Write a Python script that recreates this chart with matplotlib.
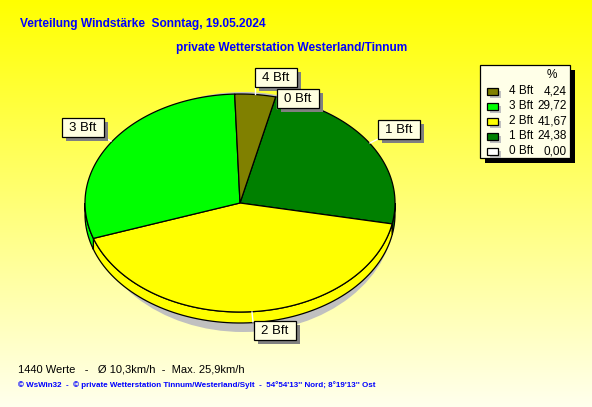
import numpy as np
import matplotlib
matplotlib.use('Agg')
import matplotlib.pyplot as plt
from matplotlib.patches import Rectangle, Ellipse, Polygon

# ---------------- data ----------------
categories = ['0 Bft', '1 Bft', '2 Bft', '3 Bft', '4 Bft']
percent = [0.00, 24.38, 41.67, 29.72, 4.24]
colors = ['#FFFFFF', '#008000', '#FFFF00', '#00FF00', '#808000']
legend_order = [4, 3, 2, 1, 0]

title = 'Verteilung Windstärke  Sonntag, 19.05.2024'
subtitle = 'private Wetterstation Westerland/Tinnum'
stats = '1440 Werte   -   Ø 10,3km/h  -  Max. 25,9km/h'
footer = "© WsWin32  -  © private Wetterstation Tinnum/Westerland/Sylt  -  54°54'13'' Nord; 8°19'13'' Ost"

# ---------------- layout ----------------
W, H = 592, 407
FONT = ['Liberation Sans', 'DejaVu Sans']

fig = plt.figure(figsize=(W / 100, H / 100), dpi=100)
ax = fig.add_axes([0, 0, 1, 1])
ax.set_xlim(0, W)
ax.set_ylim(H, 0)
ax.axis('off')

# background gradient (yellow -> pale)
g = np.linspace(0, 1, 256)
img = np.ones((256, 1, 3))
img[:, 0, 2] = g * 0.93
ax.imshow(img, extent=[0, W, H, 0], aspect='auto', zorder=0, interpolation='bilinear')

# pie geometry
cx, cy, rx, ry, depth = 240, 203, 155, 109, 11
startangle = 76.7


def pt(theta_deg, dy=0.0):
    t = np.radians(theta_deg)
    return cx + rx * np.cos(t), cy - ry * np.sin(t) + dy


vals = np.array(percent, dtype=float)
cum = np.concatenate([[0], np.cumsum(vals)]) / vals.sum() * 360.0
bounds = startangle - cum  # clockwise

# shadow
ax.add_patch(Ellipse((243, 212), 2 * 152, 2 * 120, facecolor='#C0C0C0',
                     edgecolor='none', zorder=1))

# sides (front half only)
for i, v in enumerate(vals):
    if v <= 0:
        continue
    hi, lo = bounds[i], bounds[i + 1]
    for k in (-2, -1, 0, 1):
        a = max(lo, -180 + 360 * k)
        b = min(hi, 0 + 360 * k)
        if b - a <= 0.01:
            continue
        th = np.linspace(a, b, 80)
        top = [pt(t) for t in th]
        bot = [pt(t, depth) for t in th[::-1]]
        ax.add_patch(Polygon(top + bot, closed=True, facecolor=colors[i],
                             edgecolor='black', lw=0.9, zorder=2))

# top faces
for i, v in enumerate(vals):
    if v <= 0:
        continue
    hi, lo = bounds[i], bounds[i + 1]
    th = np.linspace(hi, lo, 200)
    poly = [(cx, cy)] + [pt(t) for t in th]
    ax.add_patch(Polygon(poly, closed=True, facecolor=colors[i],
                         edgecolor='black', lw=0.9, zorder=3))

# slice labels (box centers are layout constants)
label_boxes = {
    '4 Bft': (276, 77.5, (255, 94), (255, 87)),
    '0 Bft': (298, 98.5, (277, 97), (277, 108)),
    '1 Bft': (399, 129.5, (370, 143), (378, 139)),
    '3 Bft': (82.5, 127.5, (111, 141), (103, 137)),
    '2 Bft': (274.5, 330, (252, 312), (253, 322)),
}
bw, bh = 42, 19
for name in categories:
    x, y, p0, p1 = label_boxes[name]
    ax.plot([p0[0], p1[0]], [p0[1], p1[1]], color='white', lw=1, zorder=4)
    ax.add_patch(Rectangle((x - bw / 2 + 4, y - bh / 2 + 4), bw, bh,
                           facecolor='#808080', edgecolor='none', zorder=5))
    ax.add_patch(Rectangle((x - bw / 2, y - bh / 2), bw, bh,
                           facecolor='#FFFFE1', edgecolor='black', lw=0.9, zorder=6))
    ax.text(x, y + 0.5, name, ha='center', va='center', fontsize=9.5,
            family=FONT, color='black', zorder=7)

# legend
lx0, ly0, lx1, ly1 = 480, 65, 570, 158
ax.add_patch(Rectangle((lx0 + 5, ly0 + 5), lx1 - lx0, ly1 - ly0,
                       facecolor='black', edgecolor='none', zorder=5))
ax.add_patch(Rectangle((lx0, ly0), lx1 - lx0, ly1 - ly0,
                       facecolor='#FFFFE8', edgecolor='black', lw=0.9, zorder=6))
ax.text(552, 75, '%', ha='center', va='center', fontsize=8.5, family=FONT, zorder=7)
for r, idx in enumerate(legend_order):
    yy = 91 + 15 * r
    ax.add_patch(Rectangle((487 + 3, yy - 3.5 + 3), 11, 7, facecolor='#C0C0C0',
                           edgecolor='none', zorder=7))
    ax.add_patch(Rectangle((487, yy - 3.5), 11, 7, facecolor=colors[idx],
                           edgecolor='black', lw=0.9, zorder=8))
    ax.text(509, yy, categories[idx], ha='left', va='center', fontsize=8.5,
            family=FONT, zorder=8)
    ax.text(567, yy, f'{percent[idx]:.2f}'.replace('.', ','), ha='right',
            va='center', fontsize=8.5, family=FONT, zorder=8)

# titles
ax.text(20, 24, title, ha='left', va='center', fontsize=8.6, fontweight='bold',
        color='#0000FF', family=FONT, zorder=8)
ax.text(176, 48, subtitle, ha='left', va='center', fontsize=8.6, fontweight='bold',
        color='#0000FF', family=FONT, zorder=8)
ax.text(18, 370, stats, ha='left', va='center', fontsize=8,
        color='black', family=FONT, zorder=8)
ax.text(18, 385, footer, ha='left', va='center', fontsize=5.75, fontweight='bold',
        color='#0000FF', family=FONT, zorder=8)

fig.savefig('out.png', dpi=100)
